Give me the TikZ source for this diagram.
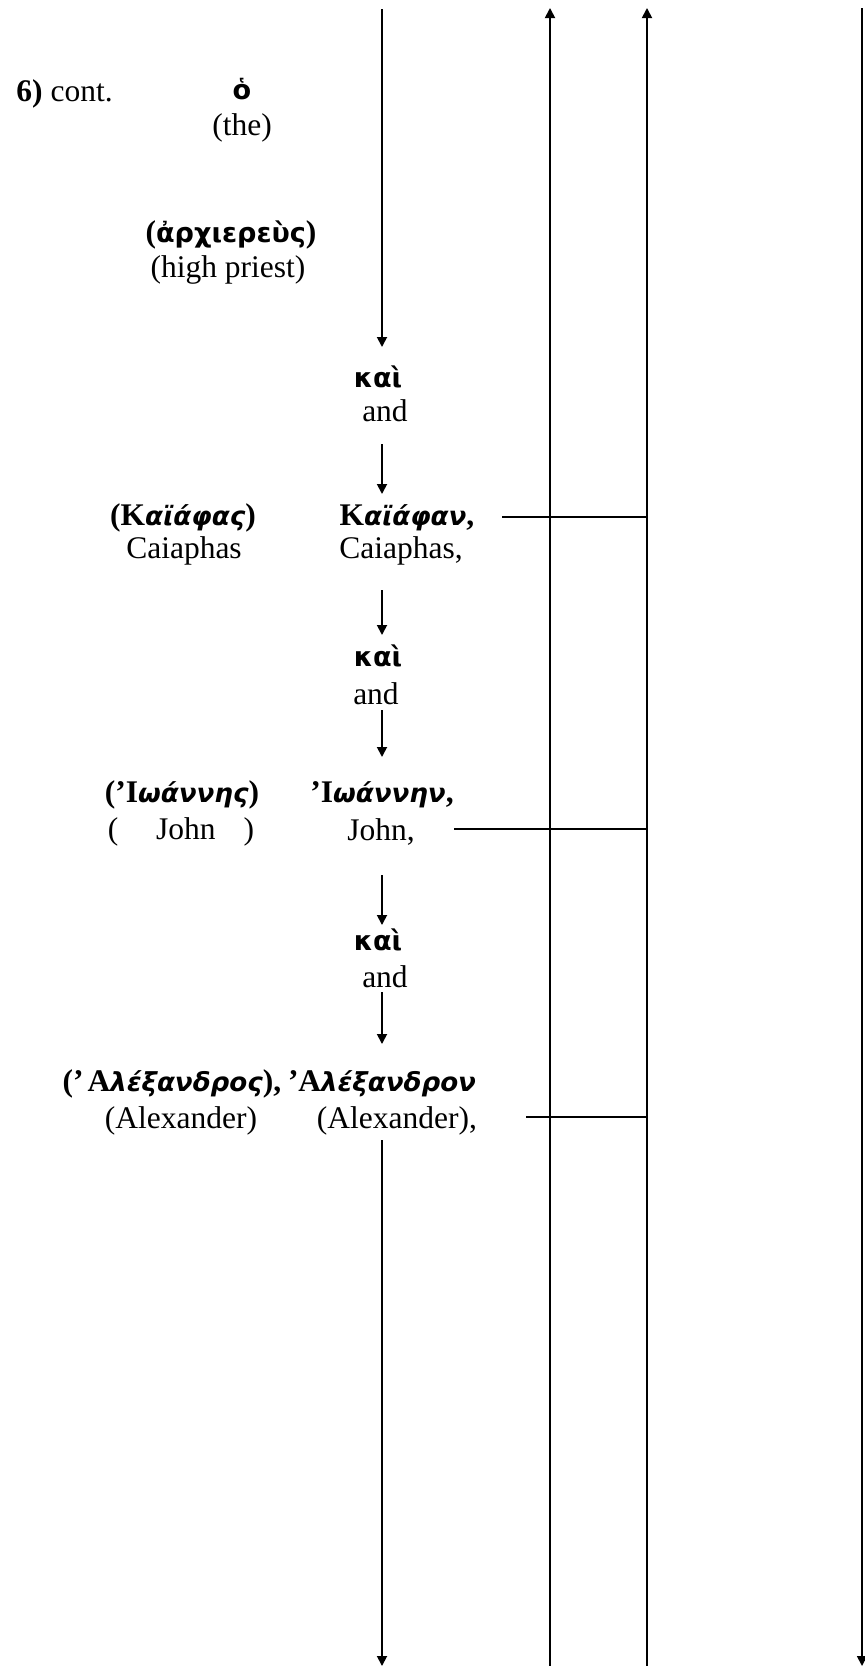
\documentclass[tikz,border=0pt]{standalone}
\usepackage{fontspec}
\setmainfont{Liberation Serif}
\newfontfamily\grsans[Scale=0.86]{DejaVu Sans}
\newfontfamily\grslant[Scale=0.83]{DejaVu Sans}
\usetikzlibrary{arrows.meta}

% Greek word pieces: upright sans, bold serif capitals, slanted lower case
\newcommand\gs[1]{{\grsans\bfseries #1}}
\newcommand\gc[1]{{\bfseries #1}}
\newcommand\gi[1]{{\grslant\bfseries\itshape #1}}

\begin{document}
\begin{tikzpicture}[x=0.5pt,y=-0.5pt,
  every node/.style={inner sep=0pt,font=\fontsize{15.75}{18}\selectfont},
  rule/.style={line width=0.9pt},
  arr/.style={rule,-{Triangle[width=5pt,length=5pt]}},
  link/.style 2 args={arr,shorten <=#1,shorten >=#2},
]
\useasboundingbox (0,0) rectangle (865,1666);

% heading and first words
\node[anchor=west] (six) at (16,94) {\textbf{6)} cont.};
\node (art) at (242,89) {\gs{ὁ}};
\node (the) at (242,128) {(the)};
\node (arch) at (231,235) {\gc{(}\gs{ἀρχιερεὺς}\gc{)}};
\node (hp) at (228,270) {(high priest)};

% main column
\node (kai1) at (378,377) {\gs{καὶ}};
\node (and1) at (385,411) {and};
\node (kaiaphan) at (407,518) {\gc{Κ}\gi{αϊάφαν}\gc{,}};
\node (caiR) at (401,551) {Caiaphas,};
\node (kai2) at (378,656) {\gs{καὶ}};
\node (and2) at (376,694) {and};
\node (ioannen) at (382,795) {\gc{’Ι}\gi{ωάννην}\gc{,}};
\node (johnR) at (381,832) {John,};
\node (kai3) at (378,940) {\gs{καὶ}};
\node (and3) at (385,977) {and};
\node (alexandron) at (382,1084) {\gc{’Α}\gi{λέξανδρον}};
\node (alexR) at (397,1121) {(Alexander),};

% lexical forms on the left
\node (kaiaphas) at (183,518) {\gc{(Κ}\gi{αϊάφας}\gc{)}};
\node (caiL) at (184,551) {Caiaphas};
\node (ioannes) at (182,795) {\gc{(’Ι}\gi{ωάννης}\gc{)}};
\node (johnL) at (181,832) {(\hspace{19pt}John\hspace{14pt})};
\node (alexandros) at (172,1084) {\gc{(’\hspace{2pt}Α}\gi{λέξανδρος}\gc{),}};
\node (alexL) at (181,1121) {(Alexander)};

% fixed ends of the long lines
\coordinate (mtop) at (382,9);
\coordinate (mbot) at (382,1666);
\coordinate (u1top) at (550,8);
\coordinate (u1bot) at (550,1666);
\coordinate (u2top) at (647,8);
\coordinate (u2bot) at (647,1666);
\coordinate (rtop) at (862,8);
\coordinate (rbot) at (862,1666);
\coordinate (h1) at (502,517);
\coordinate (h2) at (454,829);
\coordinate (h3) at (526,1117);

% main chain
\draw[link={0pt}{15pt}] (mtop) -- (mtop |- kai1);
\draw[link={16.5pt}{12pt}] (mtop |- and1) -- (mtop |- kaiaphan);
\draw[link={19.5pt}{10.5pt}] (mtop |- caiR) -- (mtop |- kai2);
\draw[link={8pt}{19pt}] (mtop |- and2) -- (mtop |- ioannen);
\draw[link={21.5pt}{7.5pt}] (mtop |- johnR) -- (mtop |- kai3);
\draw[link={7.5pt}{20pt}] (mtop |- and3) -- (mtop |- alexandron);
\draw[link={9.5pt}{0pt}] (mtop |- alexR) -- (mbot);

% long lines on the right
\draw[arr] (u1bot) -- (u1top);
\draw[arr] (u2bot) -- (u2top);
\draw[arr] (rtop) -- (rbot);

% links to the right
\draw[rule] (h1) -- (h1 -| u2top);
\draw[rule] (h2) -- (h2 -| u2top);
\draw[rule] (h3) -- (h3 -| u2top);
\end{tikzpicture}
\end{document}
